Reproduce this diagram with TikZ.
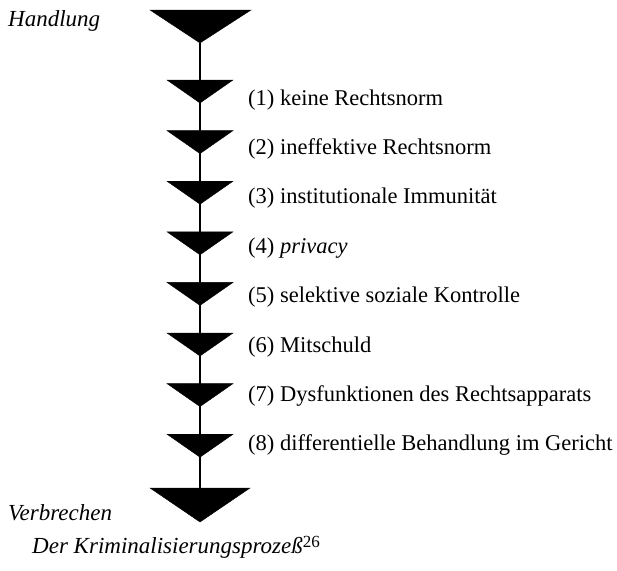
\documentclass[tikz,border=0pt]{standalone}
\usepackage{fontspec}
\setmainfont{Liberation Serif}
\begin{document}
\begin{tikzpicture}[x=1pt,y=-1pt,
  lbl/.style={anchor=base west,inner sep=0pt,font=\fontsize{22.5}{25}\selectfont},
  itlbl/.style={lbl,font=\fontsize{23}{26}\selectfont\itshape},
  tri/.style={fill=black,draw=black,line width=0.4pt,line join=miter},
  stem/.style={line width=2pt}]
\useasboundingbox (0,0) rectangle (617,570);
% big top triangle
\coordinate (topapex) at (200,43);
\fill[tri] (150,10) -- (251,10) -- (topapex) -- cycle;
% bottom big triangle
\coordinate (bottop) at (200,488);
\fill[tri] (150,488) -- (250,488) -- (200,522) -- cycle;
% stem
\draw[stem] (topapex) -- (bottop);
% small triangles
\foreach \k in {1,...,8}{
  \pgfmathsetmacro{\t}{80+50.6*(\k-1)}
  \fill[tri] (167,\t) -- (233,\t) -- (200,\t+23) -- cycle;
}
% labels
\node[lbl] (l1) at (248,105) {(1) keine Rechtsnorm};
\node[lbl] (l2) at (248,154.4) {(2) ineffektive Rechtsnorm};
\node[lbl] (l3) at (248,203.8) {(3) institutionale Immunität};
\node[lbl] (l4) at (248,253.2) {(4) \textit{privacy}};
\node[lbl] (l5) at (248,302.6) {(5) selektive soziale Kontrolle};
\node[lbl] (l6) at (248,352) {(6) Mitschuld};
\node[lbl] (l7) at (248,401.4) {(7) Dysfunktionen des Rechtsapparats};
\node[lbl] (l8) at (248,450.8) {(8) differentielle Behandlung im Gericht};
\node[itlbl] (hand) at (8,26) {Handlung};
\node[itlbl] (verb) at (8,520) {Verbrechen};
\node[itlbl] (title) at (32,553) {Der Kriminalisierungsprozeß\raisebox{6pt}{\upshape\fontsize{17}{19}\selectfont 26}};
\end{tikzpicture}
\end{document}
